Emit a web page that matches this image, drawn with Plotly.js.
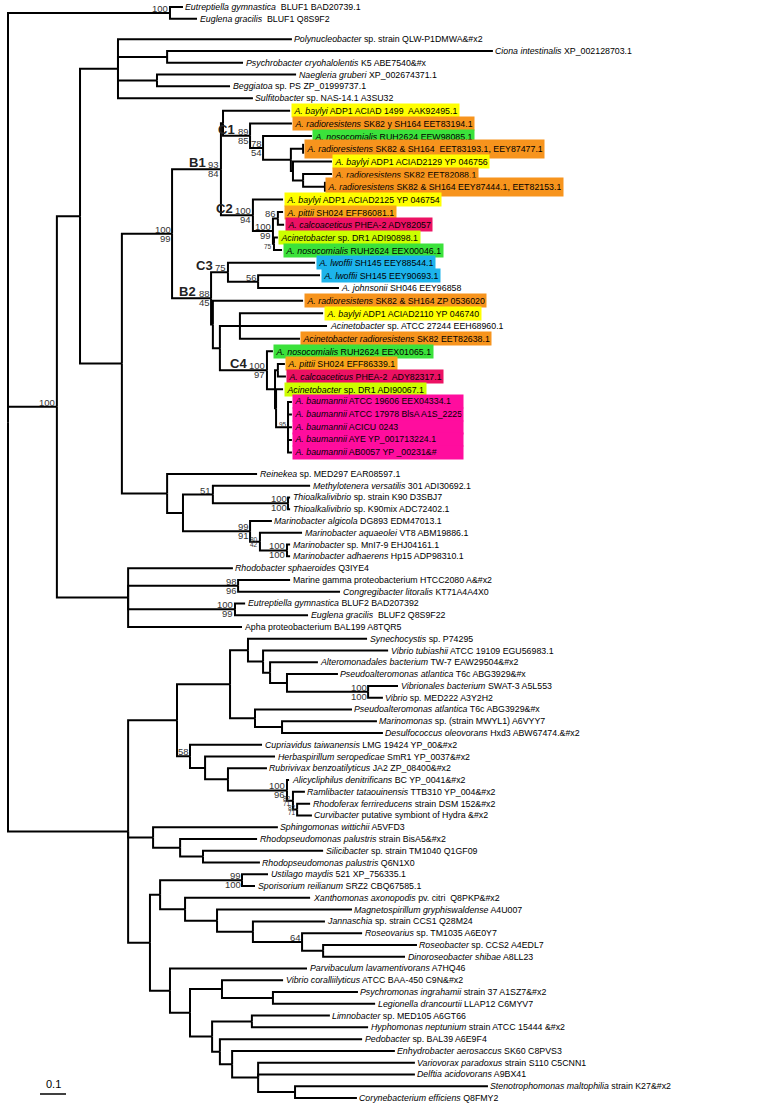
<!DOCTYPE html>
<html><head><meta charset="utf-8">
<script src="https://cdn.plot.ly/plotly-3.0.1.min.js"></script>
<style>html,body{margin:0;padding:0;background:#fff}</style>
</head><body><div id="chart" style="width:770px;height:1107px"></div>
<script>
// ---------------- DATA ----------------
const leafLabels = [
'<i>Eutreptiella gymnastica</i>  BLUF1 BAD20739.1',
'<i>Euglena gracilis</i>  BLUF1 Q8S9F2',
'<i>Polynucleobacter</i> sp. strain QLW-P1DMWA&amp;#x2',
'<i>Ciona intestinalis</i> XP_002128703.1',
'<i>Psychrobacter cryohalolentis</i> K5 ABE7540&amp;#x',
'<i>Naegleria gruberi</i> XP_002674371.1',
'<i>Beggiatoa</i> sp. PS ZP_01999737.1',
'<i>Sulfitobacter</i> sp. NAS-14.1 A3SU32',
'<i>A. baylyi</i> ADP1 ACIAD 1499  AAK92495.1',
'<i>A. radioresistens</i> SK82 y SH164 EET83194.1',
'<i>A. nosocomialis</i> RUH2624 EEW98085.1',
'<i>A. radioresistens</i> SK82 &amp; SH164  EET83193.1, EEY87477.1',
'<i>A. baylyi</i> ADP1 ACIAD2129 YP 046756',
'<i>A. radioresistens</i> SK82 EET82088.1',
'<i>A. radioresistens</i> SK82 &amp; SH164 EEY87444.1, EET82153.1',
'<i>A. baylyi</i> ADP1 ACIAD2125 YP 046754',
'<i>A. pittii</i> SH024 EFF86081.1',
'<i>A. calcoaceticus</i> PHEA-2 ADY82057',
'<i>Acinetobacter</i> sp. DR1 ADI90898.1',
'<i>A. nosocomialis</i> RUH2624 EEX00046.1',
'<i>A. lwoffii</i> SH145 EEY88544.1',
'<i>A. lwoffii</i> SH145 EEY90693.1',
'<i>A. johnsonii</i> SH046 EEY96858',
'<i>A. radioresistens</i> SK82 &amp; SH164 ZP 0536020',
'<i>A. baylyi</i> ADP1 ACIAD2110 YP 046740',
'<i>Acinetobacter</i> sp. ATCC 27244 EEH68960.1',
'<i>Acinetobacter radioresistens</i> SK82 EET82638.1',
'<i>A. nosocomialis</i> RUH2624 EEX01065.1',
'<i>A. pittii</i> SH024 EFF86339.1',
'<i>A. calcoaceticus</i> PHEA-2  ADY82317.1',
'<i>Acinetobacter</i> sp. DR1 ADI90067.1',
'<i>A. baumannii</i> ATCC 19606 EEX04334.1',
'<i>A. baumannii</i> ATCC 17978 BlsA A1S_2225',
'<i>A. baumannii</i> ACICU 0243',
'<i>A. baumannii</i> AYE YP_001713224.1',
'<i>A. baumannii</i> AB0057 YP _00231&amp;#',
'<i>Reinekea</i> sp. MED297 EAR08597.1',
'<i>Methylotenera versatilis</i> 301 ADI30692.1',
'<i>Thioalkalivibrio</i> sp. strain K90 D3SBJ7',
'<i>Thioalkalivibrio</i> sp. K90mix ADC72402.1',
'<i>Marinobacter algicola</i> DG893 EDM47013.1',
'<i>Marinobacter aquaeolei</i> VT8 ABM19886.1',
'<i>Marinobacter</i> sp. MnI7-9 EHJ04161.1',
'<i>Marinobacter adhaerens</i> Hp15 ADP98310.1',
'<i>Rhodobacter sphaeroides</i> Q3IYE4',
'Marine gamma proteobacterium HTCC2080 A&amp;#x2',
'<i>Congregibacter litoralis</i> KT71A4A4X0',
'<i>Eutreptiella gymnastica</i> BLUF2 BAD207392',
'<i>Euglena gracilis</i>  BLUF2 Q8S9F22',
'Apha proteobacterium BAL199 A8TQR5',
'<i>Synechocystis</i> sp. P74295',
'<i>Vibrio tubiashii</i> ATCC 19109 EGU56983.1',
'<i>Alteromonadales bacterium</i> TW-7 EAW29504&amp;#x2',
'<i>Pseudoalteromonas atlantica</i> T6c ABG3929&amp;#x',
'<i>Vibrionales bacterium</i> SWAT-3 A5L553',
'<i>Vibrio</i> sp. MED222 A3Y2H2',
'<i>Pseudoalteromonas atlantica</i> T6c ABG3929&amp;#x',
'<i>Marinomonas</i> sp. (strain MWYL1) A6VYY7',
'<i>Desulfococcus oleovorans</i> Hxd3 ABW67474.&amp;#x2',
'<i>Cupriavidus taiwanensis</i> LMG 19424 YP_00&amp;#x2',
'<i>Herbaspirillum seropedicae</i> SmR1 YP_0037&amp;#x2',
'<i>Rubrivivax benzoatilyticus</i> JA2 ZP_08400&amp;#x2',
'<i>Alicycliphilus denitrificans</i> BC YP_0041&amp;#x2',
'<i>Ramlibacter tataouinensis</i> TTB310 YP_004&amp;#x2',
'<i>Rhodoferax ferrireducens</i> strain DSM 152&amp;#x2',
'<i>Curvibacter</i> putative symbiont of Hydra &amp;#x2',
'<i>Sphingomonas wittichii</i> A5VFD3',
'<i>Rhodopseudomonas palustris</i> strain BisA5&amp;#x2',
'<i>Silicibacter</i> sp. strain TM1040 Q1GF09',
'<i>Rhodopseudomonas palustris</i> Q6N1X0',
'<i>Ustilago maydis</i> 521 XP_756335.1',
'<i>Sporisorium reilianum</i> SRZ2 CBQ67585.1',
'<i>Xanthomonas axonopodis</i> pv. citri  Q8PKP&amp;#x2',
'<i>Magnetospirillum gryphiswaldense</i> A4U007',
'<i>Jannaschia</i> sp. strain CCS1 Q28M24',
'<i>Roseovarius</i> sp. TM1035 A6E0Y7',
'<i>Roseobacter</i> sp. CCS2 A4EDL7',
'<i>Dinoroseobacter shibae</i> A8LL23',
'<i>Parvibaculum lavamentivorans</i> A7HQ46',
'<i>Vibrio coralliilyticus</i> ATCC BAA-450 C9N&amp;#x2',
'<i>Psychromonas ingrahamii</i> strain 37 A1SZ7&amp;#x2',
'<i>Legionella drancourtii</i> LLAP12 C6MYV7',
'<i>Limnobacter</i> sp. MED105 A6GT66',
'<i>Hyphomonas neptunium</i> strain ATCC 15444 &amp;#x2',
'<i>Pedobacter</i> sp. BAL39 A6E9F4',
'<i>Enhydrobacter aerosaccus</i> SK60 C8PVS3',
'<i>Variovorax paradoxus</i> strain S110 C5CNN1',
'<i>Delftia acidovorans</i> A9BX41',
'<i>Stenotrophomonas maltophilia</i> strain K27&amp;#x2',
'<i>Corynebacterium efficiens</i> Q8FMY2'
];

// highlight group of each leaf ('' = none)
const leafGroup = [
'','','','','','','','',
'Y','O','G','O','Y','O','O','Y','A','R','L','G','C','C','','O','Y','','O','G','A','R','L',
'M','M','M','M','M',
'','','','','','','','','','','','','','','','','','','','','','','','','','','','','','','','','','','','','','','','','','','','','','','','','','','','',''
];

// parent node of each leaf
const leafParent = [
'BLUF1','BLUF1','NT','CP','CP','NG','NG','NT',
'X','C1','Y','Z','Z2','V','V','C2','Q','Q','R','R','C3','L','L','N','K','K','K','C4','E','E','G',
'H','H','H','H','H',
'R0','R2','TH','TH','MB','MB2','MP','MP',
'NB1','MG','MG','BL2','BL2','NB1',
'S2','S4','S5','S6','VV','VV','S3','S7','S7',
'T0','T1','T2','T3','T4','T5','T5',
'U0','U1','U2','U2','US','US','X1','W1','W2','W3','W4','W4',
'Y0','VC','PL','PL','LH','LH','Y3','Y4','P3','P3','SC','SC'
];

// distance from root to each leaf tip (substitutions/site)
const leafDepth = [
0.673,0.727,1.092,1.865,0.904,1.108,0.854,0.942,
1.085,1.092,1.169,1.135,1.246,1.246,1.219,1.058,1.058,1.062,1.038,1.054,1.181,1.200,1.273,1.135,1.212,1.227,1.123,1.019,1.065,1.069,1.058,
1.092,1.092,1.092,1.092,1.092,
0.958,1.162,1.085,1.085,1.015,1.131,1.085,1.085,
0.865,1.085,1.277,0.912,1.154,0.900,
1.381,1.462,1.192,1.269,1.500,1.442,1.323,1.419,1.442,
0.977,1.027,0.996,1.081,1.142,1.162,1.169,
1.038,0.958,1.212,0.969,1.000,0.950,1.162,1.323,1.219,1.362,1.573,1.527,
1.150,1.058,1.346,1.412,1.238,1.385,1.362,1.488,1.565,1.565,1.846,1.342
];

// leaves that stand for two identical sequences (drawn with a tip bar)
const pairedLeaves = [11, 14];

// internal nodes
const nodeIds =    ['root','BLUF1','N1','NA','NT','NM','NB1','NL','XY','CP','NG','A0','B1','X','C1','Y','Z','Z2','V','C2','P','Q','R','B2','C3','L','N','M','K','C4','D','E','G','H',
                    'R0','R1','R2','TH','MB','MB2','MP','MG','BL2','S0','S1','S2','S4','S5','S6','VV','S3','S7','T0','T1','T2','T3','T4','T5',
                    'U0','U1','U2','X0','US','X1','W1','W2','W3','W4','Y0','Y1','VC','PL','Y2','LH','Y3','Y4','P3','SC'];
const nodeParent = [null,'root','root','N1','NA','NA','N1','root','NL','NT','NT','NM','A0','B1','X','C1','Y','Z','Z2','B1','C2','P','P','A0','B2','C3','B2','N','M','M','C4','D','D','G',
                    'NM','R0','R1','R2','R1','MB','MB2','NB1','NB1','NL','S0','S1','S2','S4','S5','S6','S1','S3','S0','T0','T1','T2','T3','T4',
                    'NL','U0','U1','XY','X0','X0','X1','W1','W2','W3','XY','Y0','Y1','VC','Y1','Y2','Y2','Y3','Y4','P3'];
const nodeDepth =  [0,0.623,0.188,0.277,0.423,0.438,0.462,0.462,0.546,0.612,0.573,0.631,0.819,0.827,0.931,0.981,1.088,1.096,1.135,0.942,1.019,1.038,1.023,0.781,0.846,0.962,0.788,0.815,0.892,0.996,1.027,1.038,1.031,1.077,
                    0.612,0.673,0.788,1.077,0.931,0.969,1.073,0.885,0.873,0.650,0.854,0.923,0.981,1.008,1.073,1.385,0.950,1.054,0.700,0.758,0.846,1.073,1.096,1.112,
                    0.558,0.662,0.750,0.585,0.900,0.681,0.804,0.942,1.131,1.212,0.623,0.700,0.823,1.019,0.785,0.938,0.815,0.862,0.962,1.104];

// bootstrap support values
const supportNode = ['N1','BLUF1','A0','A0','B1','B1','C1','C1','Y','Y','C2','C2','P','P','Q','R','C3','L','B2','B2','C4','C4','H',
                     'R2','TH','TH','MB','MB','MB2','MB2','MP','MP','MG','MG','BL2','BL2','VV','VV','T0','T3','T3','T4','T4','T5','T5','US','US','W3'];
const supportValue = ['100','100','100','99','93','84','89','85','78','54','100','94','100','99','86','75','75','56','88','45','100','97','95',
                     '51','100','100','99','91','80','42','100','100','98','96','100','99','100','100','58','100','96','82','71','82','71','99','100','64'];
const supportSide  = ['a','a','a','b','a','b','a','b','a','b','a','b','a','b','a','b','a','a','a','b','a','b','a',
                     'a','a','b','a','b','a','b','a','b','a','b','a','b','a','b','a','a','b','a','b','a','b','a','b','a'];
const supportSmall = ['R','H','MB2','T4','T5'];

// clade names
const cladeNode = ['B1','B2','C1','C2','C3','C4'];
const cladeName = ['B1','B2','C1','C2','C3','C4'];

// ---------------- LAYOUT / STYLE ----------------
const groupColors = {Y:'#FFFF00', O:'#F7941D', G:'#3BE23B', C:'#1DB4EC', R:'#EC1163', L:'#CCFF00', M:'#FF0D9E', A:'#F9A51A'};
const FONT = 'Liberation Sans, Arial, sans-serif';
const W = 770, H = 1107;
const px0 = 8, pxPerUnit = 260;           // tree units -> pixels (0.1 = 26 px)
const firstLeafPx = 7, lastLeafPx = 1098;
const groupBreakAfter = [1, 35];

// rows
const rows = []; let r = 0;
leafLabels.forEach((_, i) => {
  if (i > 0) {
    let step = (leafGroup[i] || leafGroup[i-1]) ? 1.075 : 1;
    if (groupBreakAfter.includes(i-1)) step += 0.74;
    r += step;
  }
  rows.push(r);
});
const k = (lastLeafPx - firstLeafPx) / rows[rows.length-1]; // px per row

// build tree
const nodes = {};
nodeIds.forEach((id, i) => nodes[id] = {id, parent: nodeParent[i], depth: nodeDepth[i], children: []});
leafLabels.forEach((_, i) => nodes['leaf'+i] = {id:'leaf'+i, parent: leafParent[i], depth: leafDepth[i], children: [], leaf: i});
Object.values(nodes).forEach(n => { if (n.parent) nodes[n.parent].children.push(n); });
function setY(n) {
  if (n.leaf !== undefined) { n.y = rows[n.leaf]; return n.y; }
  const ys = n.children.map(setY);
  n.y = (Math.min(...ys) + Math.max(...ys)) / 2;
  return n.y;
}
setY(nodes.root);

// branch paths
const lx = [], ly = [];
Object.values(nodes).forEach(n => {
  if (!n.parent) return;
  const p = nodes[n.parent];
  lx.push(p.depth, p.depth, n.depth, null);
  ly.push(p.y, n.y, n.y, null);
});
pairedLeaves.forEach(i => { lx.push(leafDepth[i], leafDepth[i], null); ly.push(rows[i]-0.42, rows[i]+0.42, null); });

const traces = [{
  type:'scatter', mode:'lines', x: lx, y: ly, hoverinfo:'skip',
  line:{color:'#000', width:2}, connectgaps:false
}];
// scale bar (0.1)
const sbX = (40 - px0) / pxPerUnit, sbRow = (1094 - firstLeafPx) / k;
traces.push({type:'scatter', mode:'lines', x:[sbX, sbX+0.1], y:[sbRow, sbRow], line:{color:'#000', width:1.5}, hoverinfo:'skip'});

const ann = [];
leafLabels.forEach((t, i) => {
  const g = leafGroup[i];
  const a = {x: leafDepth[i], y: rows[i], text: t, showarrow:false, xanchor:'left', yanchor:'middle',
    xshift: 0.5, font:{family:FONT, size:8.8, color:'#000'}, align:'left'};
  if (g) {
    a.bgcolor = groupColors[g];
    a.borderpad = 1.5;
    if (g === 'M') { a.width = 167; a.height = k*1.075 - 3; a.borderpad = 1.5; }
    if (pairedLeaves.includes(i)) { a.height = 15; }
  }
  ann.push(a);
});
supportNode.forEach((id, i) => {
  const n = nodes[id];
  const small = supportSmall.includes(id);
  ann.push({x: n.depth, y: n.y, text: supportValue[i], showarrow:false, xanchor:'right',
    yanchor: supportSide[i] === 'a' ? 'bottom' : 'top', xshift: -0.5, yshift: supportSide[i]==='a' ? -2 : 2,
    font:{family:FONT, size: small ? 6.5 : 9.5, color:'#333'}, borderpad:0});
});
cladeNode.forEach((id, i) => {
  const n = nodes[id];
  const si = supportNode.findIndex((s, j) => s === id && supportSide[j] === 'a');
  const w = si >= 0 ? supportValue[si].length * 5.3 : 0;
  ann.push({x: n.depth, y: n.y, text: '<b>' + cladeName[i] + '</b>', showarrow:false, xanchor:'right', yanchor:'bottom',
    xshift: -(w + 3), yshift: -2, font:{family:FONT, size:13, color:'#222'}, borderpad:0});
});
ann.push({x: sbX + 0.05, y: sbRow, text: '0.1', showarrow:false, xanchor:'center', yanchor:'bottom', yshift: 2,
  font:{family:FONT, size:11, color:'#000'}});

const layout = {
  width: W, height: H, margin:{l:0, r:0, t:0, b:0}, paper_bgcolor:'#fff', plot_bgcolor:'#fff', showlegend:false,
  xaxis:{range:[-px0/pxPerUnit, (W-px0)/pxPerUnit], visible:false, fixedrange:true},
  yaxis:{range:[(H-firstLeafPx)/k, -firstLeafPx/k], visible:false, fixedrange:true},
  annotations: ann
};
Plotly.newPlot('chart', traces, layout, {staticPlot:true, displayModeBar:false});
</script></body></html>
